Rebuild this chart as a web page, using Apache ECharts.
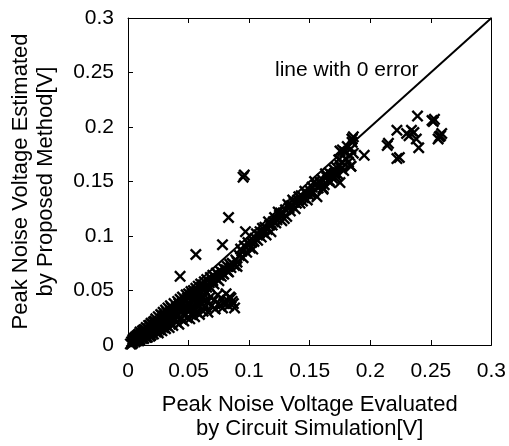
<!DOCTYPE html>
<html>
<head>
<meta charset="utf-8">
<script src="https://cdn.jsdelivr.net/npm/echarts@6/dist/echarts.min.js"></script>
<style>html,body{margin:0;padding:0;background:#fff}#c{width:509px;height:446px}</style>
</head>
<body>
<div id="c"></div>
<script>
// Tick labels
const xTicks = [0, 0.05, 0.1, 0.15, 0.2, 0.25, 0.3];
const yTicks = [0, 0.05, 0.1, 0.15, 0.2, 0.25, 0.3];
// Zero-error reference line endpoints
const zeroLine = [[0, 0], [0.3, 0.3]];
const zeroLineLabel = 'line with 0 error';
// Points: [evaluated by simulation, estimated by proposed method]
const blobLow = [[0.002,0.001],[0.003,0.003],[0.004,0.002],[0.005,0.004],[0.005,0.006],[0.006,0.003],[0.007,0.005],[0.007,0.008],[0.008,0.004],[0.008,0.007],[0.009,0.006],[0.009,0.010],[0.010,0.005],[0.010,0.008],[0.011,0.011],[0.011,0.007],[0.012,0.009],[0.012,0.013],[0.013,0.006],[0.013,0.011],[0.014,0.008],[0.014,0.014],[0.015,0.010],[0.015,0.016],[0.016,0.007],[0.016,0.012],[0.017,0.015],[0.017,0.010],[0.018,0.018],[0.018,0.008],[0.019,0.013],[0.019,0.020],[0.020,0.011],[0.020,0.016],
  [0.004,0.005],[0.006,0.007],[0.008,0.009],[0.010,0.012],[0.012,0.006],[0.014,0.011],[0.016,0.015],[0.018,0.012],[0.019,0.009],[0.020,0.019],[0.003,0.001],[0.006,0.005],[0.009,0.004],[0.011,0.009],[0.013,0.014],[0.015,0.007],[0.017,0.018],[0.019,0.016]];
const bandA = [[0.021,0.021],[0.021,0.010],[0.022,0.014],[0.022,0.018],[0.023,0.012],[0.023,0.024],[0.024,0.016],[0.024,0.020],[0.025,0.011],[0.025,0.026],[0.026,0.014],[0.026,0.022],[0.027,0.018],[0.027,0.028],[0.028,0.013],[0.028,0.024],[0.029,0.016],[0.029,0.030],[0.030,0.020],[0.030,0.027],[0.031,0.015],[0.031,0.032],[0.032,0.022],[0.032,0.018],[0.033,0.029],[0.033,0.034],[0.034,0.016],[0.034,0.025],[0.035,0.031],[0.035,0.036],[0.036,0.020],[0.036,0.028],[0.037,0.033],[0.037,0.018],[0.038,0.038],[0.038,0.024],[0.039,0.030],[0.040,0.035],[0.040,0.021],[0.041,0.040],[0.041,0.027],[0.042,0.032],[0.042,0.019],[0.043,0.037],[0.043,0.042],[0.044,0.024],[0.044,0.030],[0.045,0.039],[0.045,0.044],[0.046,0.022],[0.046,0.034],[0.047,0.041],[0.047,0.027],[0.048,0.046],[0.048,0.036],[0.049,0.025],[0.049,0.043],[0.050,0.031],[0.050,0.047],
  [0.022,0.022],[0.024,0.013],[0.026,0.018],[0.028,0.027],[0.030,0.016],[0.032,0.030],[0.034,0.021],[0.036,0.034],[0.038,0.029],[0.040,0.026],[0.042,0.038],[0.044,0.036],[0.046,0.029],[0.048,0.041],[0.050,0.037],[0.025,0.021],[0.029,0.023],[0.033,0.026],[0.037,0.025],[0.041,0.034],[0.045,0.033],[0.049,0.034]];
const bandB = [[0.051,0.038],[0.051,0.024],[0.052,0.045],[0.052,0.049],[0.053,0.028],[0.053,0.041],[0.054,0.050],[0.054,0.034],[0.055,0.026],[0.055,0.047],[0.056,0.052],[0.056,0.039],[0.057,0.030],[0.057,0.044],[0.058,0.054],[0.058,0.049],[0.059,0.028],[0.059,0.036],[0.060,0.052],[0.060,0.056],[0.061,0.042],[0.062,0.031],[0.062,0.055],[0.063,0.058],[0.063,0.046],[0.064,0.035],[0.065,0.053],[0.065,0.060],[0.066,0.040],[0.066,0.030],[0.067,0.057],[0.068,0.062],[0.068,0.044],[0.069,0.036],[0.070,0.059],[0.070,0.064],[0.071,0.041],[0.072,0.033],[0.072,0.062],[0.073,0.066],[0.074,0.046],[0.075,0.038],[0.075,0.064],[0.076,0.068],[0.077,0.043],[0.078,0.034],[0.078,0.066],[0.079,0.070],[0.080,0.040],[0.081,0.047],[0.082,0.068],[0.082,0.072],[0.083,0.036],[0.084,0.044],[0.084,0.074],[0.085,0.071],[0.086,0.075],[0.086,0.040],[0.088,0.073],[0.088,0.034],[0.089,0.078],[0.090,0.076],[0.090,0.072],
  [0.053,0.047],[0.055,0.043],[0.057,0.050],[0.059,0.046],[0.061,0.053],[0.063,0.051],[0.065,0.048],[0.067,0.054],[0.069,0.058],[0.071,0.056],[0.073,0.061],[0.075,0.059],[0.077,0.063],[0.079,0.065],[0.081,0.069],[0.083,0.067],[0.085,0.043],[0.087,0.038],[0.082,0.041],[0.079,0.038],[0.076,0.036],[0.052,0.033],[0.056,0.035],[0.060,0.038],[0.064,0.041]];
const bandC = [[0.092,0.082],[0.094,0.086],[0.095,0.080],[0.097,0.090],[0.097,0.104],[0.098,0.085],[0.100,0.092],[0.102,0.094],[0.103,0.088],[0.105,0.098],[0.107,0.096],[0.108,0.101],[0.110,0.099],[0.112,0.103],[0.113,0.108],[0.115,0.106],[0.117,0.110],[0.118,0.104],[0.120,0.113],[0.121,0.117],[0.123,0.115],[0.125,0.119],[0.127,0.114],[0.128,0.121],[0.130,0.124],[0.131,0.118],[0.133,0.126],[0.135,0.128],[0.137,0.131],[0.138,0.125],[0.140,0.133],[0.142,0.130],[0.143,0.137],[0.145,0.135],[0.147,0.139],[0.148,0.133],[0.150,0.142],[0.152,0.145],[0.153,0.140],[0.155,0.147],[0.156,0.136],[0.158,0.150],[0.160,0.152],[0.161,0.143],[0.162,0.147],[0.164,0.154],[0.165,0.151],[0.166,0.158],[0.168,0.156],[0.169,0.153],[0.170,0.161],[0.172,0.163],[0.173,0.157],[0.175,0.165],[0.175,0.178],[0.177,0.168],[0.178,0.160],[0.180,0.171],[0.181,0.182],[0.183,0.174],[0.184,0.164],[0.185,0.186],[0.185,0.189],[0.186,0.176],
  [0.093,0.088],[0.096,0.091],[0.099,0.094],[0.101,0.089],[0.104,0.095],[0.106,0.102],[0.109,0.104],[0.111,0.107],[0.114,0.101],[0.116,0.113],[0.119,0.110],[0.122,0.112],[0.124,0.122],[0.126,0.121],[0.129,0.116],[0.132,0.129],[0.134,0.123],[0.136,0.133],[0.139,0.130],[0.141,0.136],[0.144,0.132],[0.146,0.141],[0.149,0.138],[0.151,0.139],[0.154,0.150],[0.157,0.144],[0.159,0.148],[0.163,0.157],[0.167,0.149],[0.171,0.158],[0.174,0.170],[0.176,0.162],[0.179,0.177],[0.182,0.168],[0.184,0.180],[0.186,0.191]];
const outliers = [[0.095,0.154],[0.096,0.156],[0.083,0.117],[0.078,0.092],[0.056,0.083],[0.043,0.063]];
const farCluster = [[0.239,0.210],[0.251,0.206],[0.252,0.205],[0.253,0.207],[0.258,0.192],[0.257,0.191],[0.259,0.194],[0.256,0.189],[0.222,0.197],[0.234,0.197],[0.236,0.195],[0.232,0.192],[0.230,0.194],[0.238,0.189],[0.240,0.181],[0.214,0.183],[0.215,0.185],[0.222,0.171],[0.224,0.172],[0.185,0.189],[0.195,0.174],[0.177,0.179],[0.184,0.164],[0.172,0.155],[0.166,0.151],[0.175,0.149],[0.161,0.144]];

const points = [].concat(blobLow, bandA, bandB, bandC, outliers, farCluster);
const FONT = 'Liberation Sans, Arial, Helvetica, sans-serif';
const crossPath = 'path://M0,1.4L1.4,0L5,3.6L8.6,0L10,1.4L6.4,5L10,8.6L8.6,10L5,6.4L1.4,10L0,8.6L3.6,5Z';

const chart = echarts.init(document.getElementById('c'), null, {renderer: 'canvas'});
const axisCommon = {
  type: 'value', min: xTicks[0], max: xTicks[xTicks.length - 1], interval: 0.05,
  splitLine: {show: false},
  axisLine: {show: true, onZero: false, lineStyle: {color: '#000', width: 1}},
  axisTick: {show: true, inside: true, length: 5, lineStyle: {color: '#000', width: 1}},
  axisLabel: {color: '#000', fontSize: 21, fontFamily: FONT}
};
chart.setOption({
  animation: false,
  backgroundColor: '#fff',
  grid: {left: 127, right: 16, top: 18, bottom: 97, containLabel: false},
  xAxis: [
    Object.assign({}, axisCommon, {
      position: 'bottom',
      axisLabel: Object.assign({}, axisCommon.axisLabel, {margin: 16}),
      name: 'Peak Noise Voltage Evaluated\nby Circuit Simulation[V]',
      nameLocation: 'middle', nameGap: 48,
      nameTextStyle: {color: '#000', fontSize: 22, fontFamily: FONT, lineHeight: 24}
    }),
    Object.assign({}, axisCommon, {position: 'top', axisLabel: {show: false}})
  ],
  yAxis: [
    Object.assign({}, axisCommon, {
      min: yTicks[0], max: yTicks[yTicks.length - 1],
      position: 'left',
      axisLabel: Object.assign({}, axisCommon.axisLabel, {margin: 14}),
      name: 'Peak Noise Voltage Estimated\nby Proposed Method[V]',
      nameLocation: 'middle', nameGap: 70, nameRotate: 90,
      nameTextStyle: {color: '#000', fontSize: 22, fontFamily: FONT, lineHeight: 25}
    }),
    Object.assign({}, axisCommon, {
      min: yTicks[0], max: yTicks[yTicks.length - 1],
      position: 'right', axisTick: {show: false}, axisLabel: {show: false}
    })
  ],
  series: [
    {
      type: 'scatter', xAxisIndex: 0, yAxisIndex: 0,
      data: points, symbol: crossPath, symbolSize: 12,
      itemStyle: {color: '#000', opacity: 1}, z: 2
    },
    {
      type: 'line', xAxisIndex: 0, yAxisIndex: 0,
      data: zeroLine, showSymbol: false, symbol: 'none',
      lineStyle: {color: '#000', width: 2}, z: 3
    }
  ],
  graphic: [{
    type: 'text', left: 275, top: 60,
    style: {text: zeroLineLabel, fontSize: 21, fontFamily: FONT, fill: '#000'}
  }]
});
</script>
</body>
</html>
